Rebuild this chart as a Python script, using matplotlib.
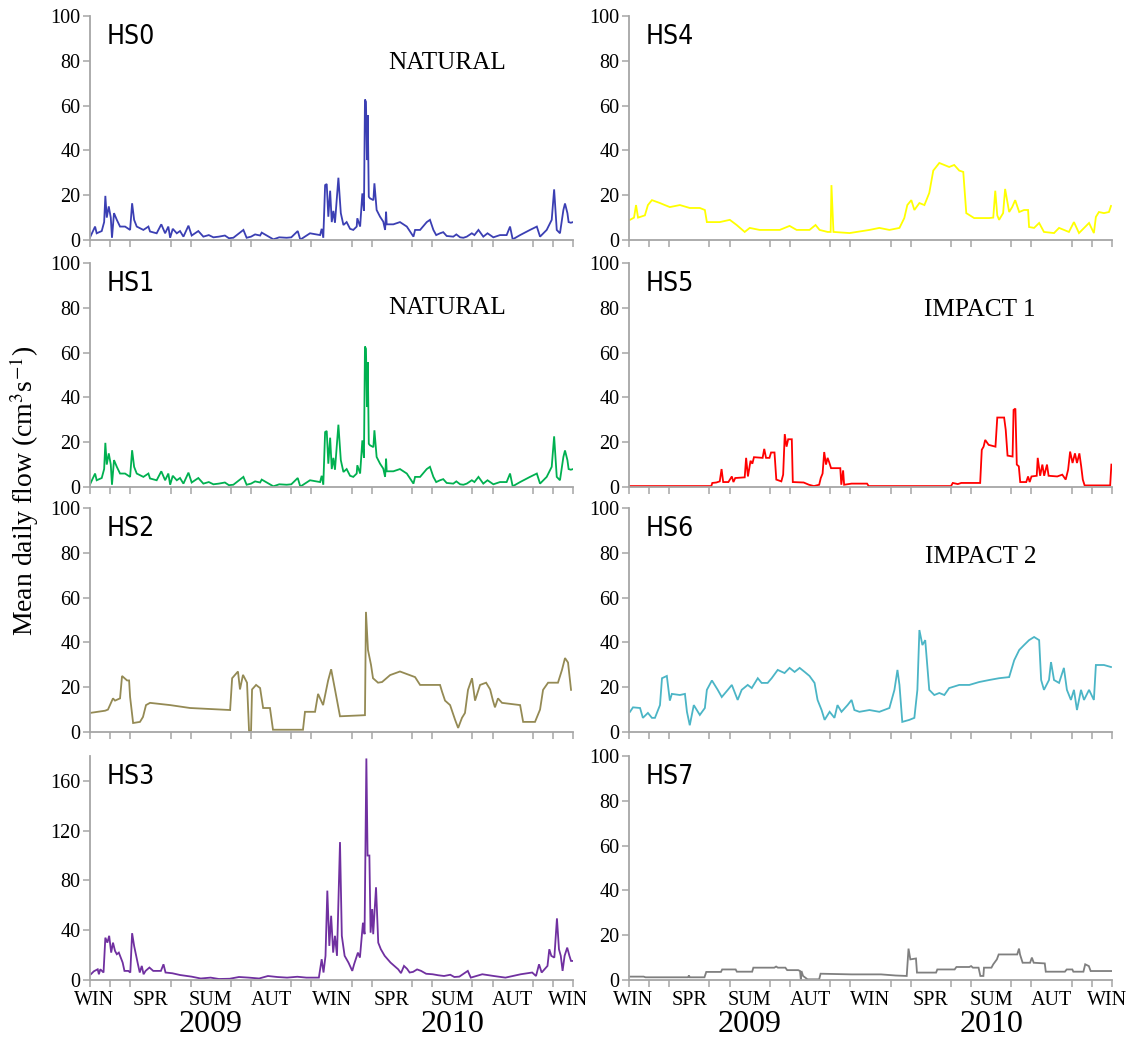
import matplotlib
matplotlib.use("Agg")
import matplotlib.pyplot as plt
from matplotlib import font_manager
from matplotlib.font_manager import FontProperties
from matplotlib.transforms import blended_transform_factory

# ---------------- data (x in months from start of record, flow in cm3 s-1) ----------------
hs0_month = [0.00, 0.25, 0.33, 0.58, 0.70, 0.76, 0.83, 0.93, 1.03, 1.09, 1.19, 1.33, 1.49, 1.74, 1.99,
             2.09, 2.19, 2.32, 2.65, 2.90, 2.98, 3.31, 3.54, 3.73, 3.89, 3.98, 4.11, 4.31, 4.47, 4.64,
             4.89, 5.05, 5.38, 5.63, 5.90, 6.13, 6.40, 6.70, 6.90, 7.12, 7.62, 7.78, 8.00, 8.20, 8.45,
             8.53, 8.78, 9.11, 9.40, 9.77, 10.00, 10.32, 10.43,
             10.47, 10.93, 11.43, 11.51, 11.59, 11.68, 11.76, 11.84, 11.93, 12.01, 12.09, 12.17, 12.34,
             12.46, 12.59, 12.75, 12.92, 13.08, 13.25, 13.28, 13.42, 13.53, 13.61, 13.66, 13.71, 13.76,
             13.80, 13.85, 13.91, 14.08, 14.13, 14.24, 14.41, 14.57, 14.66, 14.71, 14.74, 15.07, 15.40,
             15.74, 16.07, 16.15, 16.40, 16.73, 16.89, 17.06, 17.20, 17.39, 17.55, 17.72, 18.05, 18.20,
             18.39, 18.55, 18.72, 18.97, 19.10,
             19.30, 19.54, 19.75, 20.04, 20.37, 20.70, 20.87, 21.00, 21.37, 21.86, 22.20, 22.36, 22.69, 22.94,
             23.06, 23.19, 23.35, 23.52, 23.60, 23.72, 23.78, 23.89, 24.00]
hs0_flow = [1.2, 6, 3, 4, 8, 19.7, 10, 15, 10, 1, 12, 9, 6, 6, 4.5,
            16.4, 9, 6, 4.5, 6, 3.8, 3, 7, 3, 6, 1, 5, 3, 4, 1.5,
            6.4, 2, 4, 1.5, 2.2, 1.2, 1.5, 2, 0.8, 1, 4.5, 1, 1.5, 2.5, 2,
            3.3, 2, 0.3, 1.2, 1, 1.2, 4, 0.7,
            0.3, 3, 2.2, 5, 1, 24.5, 25, 10.4, 22, 8, 13, 7.7, 27.8,
            12, 6.7, 8, 5, 4.5, 6, 9.7, 6, 20.8, 13, 62.7, 61.7, 35.7,
            55.7, 19.3, 18.6, 17.8, 25.3, 13.4, 10.4, 8.2, 4.5, 12.6, 7, 7, 8,
            6, 1.5, 4.5, 4.5, 8, 9, 4.5, 2.2, 3, 3.5, 1.8, 1.5, 2.5,
            1.2, 1, 1.5, 3, 2.2,
            4.5, 1.5, 3, 1.2, 2.2, 2.2, 6, 0.3, 2.2, 4.5, 6, 1.5, 4.5, 9,
            22.6, 4.5, 3, 13.4, 16.3, 12, 8, 7.7, 8]

# HS1 record is drawn identical to HS0 in the figure
hs1_month = list(hs0_month)
hs1_flow = list(hs0_flow)

hs2_month = [0.00, 0.75, 0.89, 0.99, 1.14, 1.24, 1.49, 1.59, 1.84, 1.94, 1.99, 2.14, 2.48, 2.63, 2.78,
             2.98, 3.98, 4.97, 6.96, 7.06, 7.35, 7.45, 7.60, 7.80, 7.90, 8.00, 8.05, 8.25, 8.45, 8.60,
             8.94, 9.09, 10.43, 10.58, 10.68, 11.18, 11.33, 11.58, 11.83, 11.98, 12.17, 12.42, 13.66,
             13.71, 13.81, 13.96, 14.06, 14.31, 14.51, 14.91, 15.40, 16.15, 16.40, 17.39, 17.49, 17.64,
             17.89, 18.14, 18.29, 18.48, 18.63, 18.78, 18.98, 19.13, 19.38, 19.68, 19.88, 20.02, 20.12,
             20.27, 20.47, 21.37, 21.52, 22.11, 22.36, 22.51, 22.76, 23.25, 23.45, 23.60, 23.75, 23.90]
hs2_flow = [8.5, 9.5, 10, 12, 15, 14, 15, 25, 23, 23, 15.6, 4, 4.5, 6.7, 12,
            13, 12, 10.7, 9.8, 24, 27, 19, 25.5, 22, 0.5, 0.5, 19, 21, 19.6, 10.7,
            10.7, 1, 1, 1, 9, 9, 17, 12, 23, 28, 19, 7, 7.5,
            53.6, 36.6, 30, 24, 22, 22.3, 25.4, 27, 24.5, 21, 21, 18, 14,
            12, 5.4, 1.8, 6.3, 8.5, 18.8, 24, 14, 21, 22, 19, 14, 11,
            15, 13, 12, 4.5, 4.5, 10, 18.8, 22, 22, 27.7, 33, 31, 18.8]

hs3_month = [0.04, 0.19, 0.38, 0.44, 0.51, 0.67, 0.76, 0.86, 0.95, 1.05, 1.14, 1.24, 1.33, 1.43, 1.62,
             1.71, 1.90, 2.00, 2.09, 2.19, 2.38, 2.47, 2.57, 2.66, 2.76, 2.95, 3.14, 3.52, 3.65, 3.75,
             4.09, 4.47, 5.04, 5.50, 5.99, 6.40, 6.94, 7.40, 7.89, 8.40, 8.84, 9.30, 9.79, 10.30, 10.75,
             11.37, 11.51, 11.60, 11.70, 11.79,
             11.89, 11.98, 12.08, 12.17, 12.27, 12.42, 12.51, 12.65, 12.84, 13.03, 13.12, 13.31, 13.41,
             13.56, 13.64, 13.73, 13.79, 13.88, 13.94, 14.02, 14.07, 14.21, 14.32, 14.45, 14.64, 14.93,
             15.31, 15.45, 15.60, 15.75, 15.88, 16.05, 16.25, 16.45, 16.70, 17.02, 17.30, 17.59, 17.90,
             18.10, 18.35, 18.77, 18.92, 19.49, 20.06, 20.64, 21.40,
             21.97, 22.16, 22.31, 22.44, 22.73, 22.82, 22.92, 23.07, 23.20, 23.30, 23.39, 23.48, 23.58,
             23.71, 23.82, 23.90, 24.00]
hs3_flow = [4.6, 7, 8.6, 4.6, 8.6, 6, 34, 30, 35.5, 22, 30, 23.4, 20.7, 22, 14,
            7.3, 7.3, 6, 37.6, 27.4, 12.6, 6, 11.3, 4.6, 7.3, 10, 7.3, 7.3, 12.6, 6,
            5.4, 4, 2.7, 1.2, 1.9, 0.8, 1, 2.4, 1.9, 1.2, 3.2, 2.4, 1.9, 2.6, 1.9,
            1.9, 16.7, 6, 19.4, 71.8,
            27.4, 51.6, 22, 35.5, 19.4, 110.8, 35.5, 19.4, 14, 7.3, 12.6, 22, 18,
            46, 36.8, 178, 100, 100, 38, 57, 36.8, 74.5, 30, 24.7, 19.4, 14,
            8.6, 5.5, 11.3, 9, 6, 6.5, 8.5, 7.3, 5, 4.6, 3.8, 3.2, 4.2,
            2.4, 2.7, 7.3, 1.9, 4.6, 3.2, 1.9, 4.6,
            6, 3.2, 12.6, 6, 11.3, 24.7, 19.4, 18, 49.5, 24.7, 19.4, 7.3, 19.4,
            26, 19.4, 15.3, 15.3]

hs4_month = [0.05, 0.25, 0.35, 0.45, 0.79, 0.94, 1.14, 1.54, 1.78, 2.03, 2.53, 3.02, 3.52, 3.77, 3.87,
             4.51, 5.01, 5.35, 5.75, 6.00, 6.49, 7.49, 7.98, 8.33, 8.97, 9.27, 9.47, 9.87, 10.02, 10.06,
             10.16, 10.96, 11.95, 12.44, 12.94, 13.44, 13.68, 13.83, 14.03, 14.18, 14.43, 14.68, 14.92,
             15.12, 15.42, 15.91, 16.16, 16.41, 16.61, 16.76, 17.15, 17.90, 18.10, 18.20, 18.30, 18.39,
             18.59, 18.69, 18.89, 19.04, 19.19, 19.39, 19.63, 19.83, 19.88, 20.13, 20.38, 20.62, 21.12,
             21.37, 21.86, 22.11, 22.36, 22.86, 23.10, 23.20, 23.35, 23.60, 23.85, 23.95]
hs4_flow = [9, 10, 15.6, 10, 11, 15.6, 17.8, 16.5, 15.6, 14.7, 15.6, 14.3, 14.3, 13.4, 8,
            8, 9, 6.7, 3.6, 5.4, 4.5, 4.5, 6.3, 4.5, 4.5, 6.7, 4.5, 3.6, 3.6, 24.5,
            3.6, 3.1, 4.5, 5.4, 4.5, 5.4, 9.8, 15.6, 17.8, 13.4, 16.5, 15.6, 21,
            31, 34.4, 32.6, 33.5, 31, 30.4, 12, 9.8, 9.8, 10, 22, 11, 9,
            12, 22.8, 12.5, 14.7, 17.8, 12.5, 13.4, 13.4, 5.8, 5.4, 7.6, 3.6, 3.1,
            5.4, 3.6, 8, 3.1, 7.6, 3.1, 10.3, 12.5, 12, 12.5, 15.2]

hs5_month = [0.00, 4.09, 4.14, 4.34, 4.51, 4.60, 4.68, 4.94, 5.11, 5.19, 5.28, 5.75, 5.82, 5.91, 6.04,
             6.13, 6.21, 6.64, 6.72, 6.81, 6.98, 7.06, 7.23, 7.32, 7.57, 7.66, 7.74, 7.83, 7.91, 8.09,
             8.14, 8.68, 8.94, 9.19, 9.45, 9.53, 9.62, 9.70, 9.79, 9.87, 9.96, 10.04, 10.50, 10.55, 10.64,
             10.69, 11.06, 11.83, 11.91, 16.00, 16.09, 16.34, 16.51, 17.45, 17.53, 17.62, 17.70, 17.87,
             18.21, 18.30, 18.64, 18.72, 18.81, 19.06, 19.11, 19.20, 19.27, 19.37, 19.44, 19.74, 19.83,
             19.91, 20.00, 20.26, 20.31, 20.43, 20.54, 20.63, 20.77, 20.85, 21.28, 21.53, 21.70, 21.82,
             21.92, 22.04, 22.16, 22.26, 22.38, 22.47, 22.55, 22.64, 23.91, 23.97]
hs5_flow = [0.4, 0.4, 1.8, 2, 2.5, 8, 2.2, 2.2, 4.7, 2.2, 4, 4.3, 13, 4.7, 11.7,
            10.4, 13.3, 13, 17, 13, 13, 15.4, 15.4, 3.3, 2.5, 5.5, 23.6, 18, 21.3, 21.3,
            2.2, 2, 1, 0.4, 1, 4, 6, 15.6, 10, 13, 10.7, 8.4, 8.4, 1, 7.4,
            1, 1.5, 1.5, 0.4, 0.4, 1.8, 1.3, 1.8, 1.8, 16.6, 18, 21, 18.8,
            18, 31, 31, 25.5, 14, 13.6, 34.4, 35, 10, 9.2, 2.2, 2.2, 4.7,
            2.2, 4.7, 5, 13, 5, 10, 5, 10, 5, 4.7, 5.5, 3.3, 7.7,
            15.8, 10.7, 15, 10.7, 15, 9.2, 3.3, 0.7, 0.7, 10]

hs6_month = [0.05, 0.20, 0.55, 0.69, 0.94, 1.14, 1.29, 1.54, 1.64, 1.88, 2.03, 2.13, 2.53, 2.78, 2.88,
             3.02, 3.22, 3.37, 3.52, 3.77, 3.87, 4.12, 4.41, 4.61, 4.91, 5.11, 5.40, 5.60, 5.90, 6.10,
             6.40, 6.59, 6.89, 7.09, 7.39, 7.73, 7.98, 8.23, 8.48, 8.73, 8.97, 9.22, 9.37, 9.57, 9.72,
             9.97, 10.21, 10.36, 10.56, 10.86, 11.06, 11.20, 11.45, 11.95, 12.44, 12.94, 13.19, 13.34,
             13.44, 13.58, 13.93, 14.18, 14.33, 14.43, 14.58, 14.72, 14.92, 15.17, 15.42, 15.67, 15.91,
             16.41, 16.91, 17.40, 17.90, 18.39, 18.89, 19.14, 19.39, 19.63, 19.88, 20.13, 20.38, 20.48,
             20.62, 20.87, 20.97, 21.12, 21.37, 21.61, 21.76, 21.96, 22.11, 22.26, 22.46, 22.61, 22.86,
             23.10, 23.20, 23.60, 23.95]
hs6_flow = [9, 11, 10.7, 6.3, 8.5, 6.3, 6.3, 12, 24, 25, 14, 17, 16.5, 17, 9,
            3, 12, 9.8, 7.6, 10.7, 18.8, 23, 18.8, 15.6, 18.8, 21, 14.3, 18.8, 21, 19.6,
            24, 21.9, 21.9, 24, 27.7, 26.3, 28.6, 26.8, 28.6, 26.8, 25, 21.9, 14.3, 9.8, 5.4,
            9, 6.3, 12, 9, 12, 14.3, 9.8, 9, 9.8, 9, 10.7, 18.8, 27.7,
            21, 4.5, 5.4, 6.3, 18.8, 45.5, 38.8, 41, 18.8, 16.5, 17.4, 16.5, 19.6,
            21, 21, 22.3, 23.2, 24, 24.5, 32, 36.6, 38.8, 41, 42.4, 41, 23.2,
            18.8, 23.2, 31.2, 23.2, 21.9, 28.6, 18.8, 14.3, 18.8, 9.8, 18.8, 14.3, 18.8,
            14.3, 29.9, 29.9, 29]

hs7_month = [0.00, 0.73, 0.82, 2.93, 2.98, 3.02, 3.75, 3.84, 4.57, 4.63, 5.30, 5.36, 6.12, 6.18, 7.22,
             7.31, 7.40, 7.77, 7.86, 8.41, 8.50, 8.54, 8.57, 8.65, 8.87, 9.45, 9.52, 11.06, 12.52, 13.25,
             13.80, 13.89, 13.98, 14.26, 14.31, 15.26, 15.32, 16.18, 16.27, 16.91, 17.00, 17.09, 17.37,
             17.46, 17.61, 17.64, 18.01, 18.10, 18.28, 18.37, 19.29, 19.38, 19.43, 19.56, 19.93, 20.02,
             20.11, 20.66, 20.71, 21.66, 21.75, 22.03, 22.08, 22.58, 22.67, 22.85, 22.94, 24.00]
hs7_flow = [1.5, 1.5, 1.2, 1.2, 2, 1.2, 1.2, 3.6, 3.6, 4.7, 4.7, 3.7, 3.7, 5.5, 5.5,
            6, 5.5, 5.5, 4.4, 4.4, 4, 0, 4, 1.8, 0.3, 0.3, 2.8, 2.5, 2.5, 2,
            1.8, 14, 9.2, 9.6, 3.3, 3.3, 4.7, 4.7, 5.8, 5.8, 6.2, 5.5, 5.5,
            1.8, 1.8, 5.5, 5.5, 7, 9.2, 11.4, 11.4, 14, 11.4, 7.7, 7.7, 10,
            7.7, 7.4, 3.7, 3.7, 4.7, 4.7, 3.7, 3.7, 7, 6.2, 4, 4]

season_labels = ["WIN", "SPR", "SUM", "AUT", "WIN", "SPR", "SUM", "AUT", "WIN"]
season_label_month = [0.2, 3, 6, 9, 12, 15, 18, 21, 23.75]
year_labels = ["2009", "2010"]
panel_names = ["HS0", "HS1", "HS2", "HS3", "HS4", "HS5", "HS6", "HS7"]
panel_notes = {"HS0": "NATURAL", "HS1": "NATURAL", "HS5": "IMPACT 1", "HS6": "IMPACT 2"}

series = {
    "HS0": (hs0_month, hs0_flow), "HS1": (hs1_month, hs1_flow),
    "HS2": (hs2_month, hs2_flow), "HS3": (hs3_month, hs3_flow),
    "HS4": (hs4_month, hs4_flow), "HS5": (hs5_month, hs5_flow),
    "HS6": (hs6_month, hs6_flow), "HS7": (hs7_month, hs7_flow),
}
colors = {"HS0": "#3b3fb3", "HS1": "#00b050", "HS2": "#948a54", "HS3": "#7030a0",
          "HS4": "#ffff00", "HS5": "#ff0000", "HS6": "#4bb5c6", "HS7": "#7f7f7f"}

# ---------------- style ----------------
plt.rcParams["font.family"] = ["Liberation Serif", "DejaVu Serif"]
plt.rcParams["mathtext.fontset"] = "stix"

# narrow sans-serif for the panel names, if one is installed
cands = []
for f in font_manager.fontManager.ttflist:
    nm = f.name.lower()
    fn = f.fname.lower()
    if "narrow" in nm or "condensed" in nm or "condensed" in fn or "narrow" in fn:
        if "serif" in nm and "sans" not in nm:
            continue
        if any(k in fn for k in ("bold", "italic", "oblique", "light", "black", "thin",
                                 "medium", "semi", "extra")):
            continue
        if "mono" in nm or "mono" in fn:
            continue
        cands.append(f)
if cands:
    pref = sorted(cands, key=lambda f: (0 if "liberation" in f.name.lower() else
                                        1 if "dejavu" in f.name.lower() else 2, f.fname))
    label_prop = FontProperties(fname=pref[0].fname, size=19)
else:
    label_prop = FontProperties(family="DejaVu Sans", size=17)

fig = plt.figure(figsize=(11.37, 10.39), dpi=100)
lefts = [0.0792, 0.5532]
bottoms = [0.769, 0.5313, 0.2955, 0.0568]
W, H = 0.4248, 0.2156
spine_col = "#a6a6a6"
note_pos = {"HS0": (0.74, 0.79), "HS1": (0.74, 0.80), "HS5": (0.726, 0.79), "HS6": (0.728, 0.78)}

for i, name in enumerate(panel_names):
    col, row = divmod(i, 4)
    ax = fig.add_axes([lefts[col], bottoms[row], W, H])
    x, y = series[name]
    ax.plot(x, y, color=colors[name], lw=1.3, solid_joinstyle="miter")
    ax.set_xlim(0, 24)
    if name == "HS3":
        ax.set_ylim(0, 180)
        ax.set_yticks([0, 40, 80, 120, 160])
    else:
        ax.set_ylim(0, 100)
        ax.set_yticks([0, 20, 40, 60, 80, 100])
    for s in ("top", "right"):
        ax.spines[s].set_visible(False)
    for s in ("left", "bottom"):
        ax.spines[s].set_color(spine_col)
        ax.spines[s].set_linewidth(1.3)
    ax.set_xticks(range(25), minor=True)
    ax.set_xticks(season_label_month)
    if row == 3:
        ax.set_xticklabels(season_labels)
    else:
        ax.set_xticklabels([])
    ax.tick_params(axis="both", which="both", direction="out", color=spine_col, labelsize=14.5)
    ax.tick_params(axis="y", length=5, width=1.1, pad=2)
    ax.tick_params(axis="x", which="minor", length=5, width=1.1)
    ax.tick_params(axis="x", which="major", length=0, pad=8)
    ax.text(0.035, 0.905, name, transform=ax.transAxes, ha="left", va="center",
            fontproperties=label_prop)
    if name in panel_notes:
        px, py = note_pos[name]
        ax.text(px, py, panel_notes[name], transform=ax.transAxes,
                ha="center", va="center", fontsize=18.2)
    if row == 3:
        tr = blended_transform_factory(ax.transData, ax.transAxes)
        ax.text(6, -0.2, year_labels[0], transform=tr, ha="center", va="center", fontsize=23)
        ax.text(18, -0.2, year_labels[1], transform=tr, ha="center", va="center", fontsize=23)

fig.text(0.021, 0.528, "Mean daily flow (cm$^{3}$s$^{-1}$)", rotation=90,
         ha="center", va="center", fontsize=20)

fig.savefig("out.png", dpi=100)
